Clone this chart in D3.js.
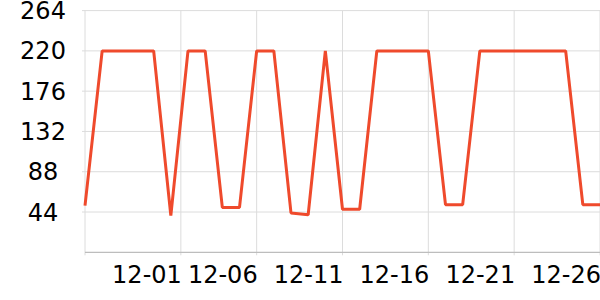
<!DOCTYPE html>
<html>
<head>
<meta charset="utf-8">
<script src="https://cdn.jsdelivr.net/npm/d3@7/dist/d3.min.js"></script>
<style>
  html, body { margin: 0; padding: 0; background: #fff; }
  svg text { font-family: "DejaVu Sans", sans-serif; fill: #000; }
</style>
</head>
<body>
<svg id="chart"></svg>
<script>
// daily values from 11-26 to 12-26
var startDay = "2023-11-26";
var values = [51, 220, 220, 220, 220, 40, 220, 220, 49, 49,
              220, 220, 43, 41, 220, 47, 47, 220, 220, 220,
              220, 52, 52, 220, 220, 220, 220, 220, 220, 52, 52];
var yTicks = [44, 88, 132, 176, 220, 264];
var xTickDates = ["2023-12-01T14:00", "2023-12-06T00:00", "2023-12-11T00:00",
                  "2023-12-16T00:00", "2023-12-21T00:00", "2023-12-26T00:00"];
var xTickLabels = ["12-01", "12-06", "12-11", "12-16", "12-21", "12-26"];

var width = 600, height = 300;
var margin = {top: 10.6, right: 0, bottom: 47.7, left: 85};

var svg = d3.select('#chart').attr('width', width).attr('height', height);

var parse = d3.timeParse("%Y-%m-%dT%H:%M");
var t0 = parse(startDay + "T00:00");
var data = values.map(function(v, i) {
    return {date: d3.timeDay.offset(t0, i), value: v};
});

var x = d3.scaleTime()
    .domain([data[0].date, data[data.length - 1].date])
    .range([margin.left, width - margin.right]);
var y = d3.scaleLinear()
    .domain([0, 264])
    .range([height - margin.bottom, margin.top]);

var xTicks = xTickDates.map(parse);

// horizontal grid
svg.append('g').selectAll('line')
    .data(yTicks)
    .enter().append('line')
    .attr('x1', margin.left - 3).attr('x2', width)
    .attr('y1', d => y(d)).attr('y2', d => y(d))
    .attr('stroke', '#dcdcdc').attr('stroke-width', 1);

// vertical grid (left edge + ticks)
svg.append('g').selectAll('line')
    .data([data[0].date].concat(xTicks))
    .enter().append('line')
    .attr('x1', d => x(d)).attr('x2', d => x(d))
    .attr('y1', y(264)).attr('y2', y(0) + 3)
    .attr('stroke', '#dcdcdc').attr('stroke-width', 1);

// x axis line
svg.append('line')
    .attr('x1', margin.left).attr('x2', width)
    .attr('y1', y(0)).attr('y2', y(0))
    .attr('stroke', '#bdbdbd').attr('stroke-width', 1.3);

// y labels
svg.append('g')
    .selectAll('text')
    .data(yTicks)
    .enter().append('text')
    .attr('x', 43)
    .attr('y', d => y(d) + 0.5)
    .attr('text-anchor', 'middle')
    .attr('dominant-baseline', 'central')
    .style('font-size', '24px')
    .text(d => d);

// x labels
svg.append('g').selectAll('text')
    .data(xTicks)
    .enter().append('text')
    .attr('x', d => x(d) + 1)
    .attr('y', 283)
    .attr('text-anchor', 'end')
    .style('font-size', '24px')
    .text((d, i) => xTickLabels[i]);

// the line
var line = d3.line()
    .x(d => x(d.date))
    .y(d => y(d.value));

svg.append('path')
    .datum(data)
    .attr('d', line)
    .attr('fill', 'none')
    .attr('stroke', '#ef4a2c')
    .attr('stroke-width', 3)
    .attr('stroke-linejoin', 'bevel');
</script>
</body>
</html>
